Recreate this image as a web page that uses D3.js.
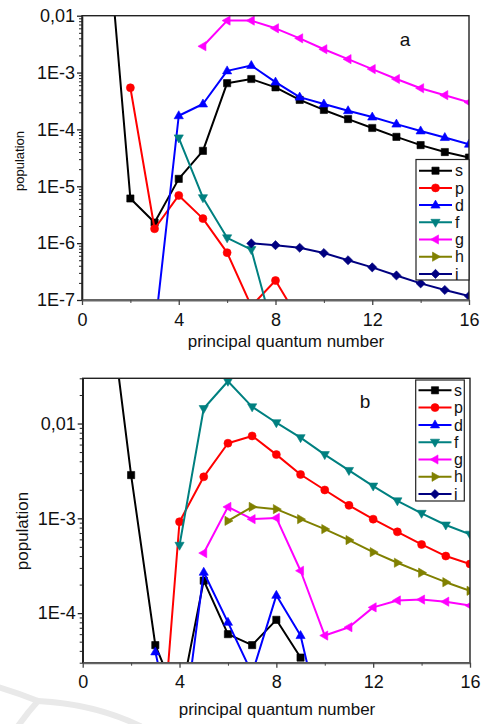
<!DOCTYPE html>
<html>
<head>
<meta charset="utf-8">
<script src="https://cdn.jsdelivr.net/npm/d3@7"></script>
<style>
  body { margin: 0; background: #fff; }
  svg { display: block; }
  text { font-family: "Liberation Sans", Arial, sans-serif; fill: #111; }
</style>
</head>
<body>
<svg id="chart" width="482" height="724"></svg>
<script>
// principal quantum number n = 1..16 ; null = no point
const nValues = d3.range(1, 17);
const seriesNames = ["s", "p", "d", "f", "g", "h", "i"];
const seriesColors = ["#000000", "#ff0000", "#0000ff", "#008080", "#ff00ff", "#808000", "#000080"];

// panel a populations
const sA = [0.6, 6.1e-6, 2.3e-6, 1.35e-5, 4.2e-5, 6.5e-4, 7.7e-4, 5.5e-4, 3.3e-4, 2.2e-4, 1.52e-4, 1.06e-4, 7.4e-5, 5.3e-5, 4.0e-5, 3.2e-5];
const pA = [null, 5.4e-4, 1.79e-6, 6.9e-6, 2.7e-6, 6.8e-7, 7.8e-8, 2.2e-7, 4.3e-8, null, null, null, null, null, null, null];
const dA = [null, null, 2.7e-8, 1.74e-4, 2.8e-4, 1.07e-3, 1.33e-3, 6.8e-4, 3.7e-4, 2.8e-4, 2.13e-4, 1.65e-4, 1.24e-4, 9.4e-5, 7.2e-5, 5.5e-5];
const fA = [null, null, null, 7.1e-5, 6.3e-6, 1.24e-6, 7.7e-7, 2.1e-8, null, null, null, null, null, null, null, null];
const gA = [null, null, null, null, 2.9e-3, 8.2e-3, 8.2e-3, 6.0e-3, 4.0e-3, 2.57e-3, 1.72e-3, 1.15e-3, 7.7e-4, 5.3e-4, 4.0e-4, 3.0e-4];
const hA = [null, null, null, null, null, null, null, null, null, null, null, null, null, null, null, null];
const iA = [null, null, null, null, null, null, 9.9e-7, 9.2e-7, 8.3e-7, 6.7e-7, 5.0e-7, 3.75e-7, 2.7e-7, 1.96e-7, 1.5e-7, 1.17e-7];

// panel b populations
const sB = [0.31, 2.86e-3, 4.6e-5, 1.1e-5, 2.2e-4, 6.0e-5, 4.6e-5, 8.5e-5, 3.4e-5, null, null, null, null, null, null, null];
const pB = [null, null, 5.5e-7, 9.2e-4, 2.74e-3, 6.2e-3, 7.4e-3, 4.7e-3, 2.9e-3, 1.99e-3, 1.37e-3, 9.8e-4, 7.2e-4, 5.3e-4, 4.0e-4, 3.3e-4];
const dB = [null, null, 3.9e-5, 2.9e-6, 2.7e-4, 8.0e-5, 2.3e-5, 1.54e-4, 5.8e-5, 4.8e-6, null, null, null, null, null, null];
const fB = [null, null, null, 5.2e-4, 1.44e-2, 2.79e-2, 1.5e-2, 1.02e-2, 7.1e-3, 4.7e-3, 3.2e-3, 2.19e-3, 1.53e-3, 1.13e-3, 8.5e-4, 6.8e-4];
const gB = [null, null, null, null, 4.3e-4, 1.32e-3, 9.8e-4, 1.01e-3, 2.8e-4, 5.8e-5, 7.1e-5, 1.15e-4, 1.36e-4, 1.39e-4, 1.32e-4, 1.2e-4];
const hB = [null, null, null, null, null, 9.4e-4, 1.32e-3, 1.25e-3, 9.8e-4, 7.7e-4, 5.9e-4, 4.4e-4, 3.4e-4, 2.67e-4, 2.12e-4, 1.72e-4];
const iB = [null, null, null, null, null, null, null, null, null, null, null, null, null, null, null, null];

// axes
const xDomain = [0, 16];
const xTicks = [0, 4, 8, 12, 16];
const xMinorTicks = [2, 6, 10, 14];
const yDomainA = [1e-7, 1e-2];
const yTicksA = [1e-7, 1e-6, 1e-5, 1e-4, 1e-3, 1e-2];
const yTickLabelsA = ["1E-7", "1E-6", "1E-5", "1E-4", "1E-3", "0,01"];
const yDomainB = [3e-5, 3e-2];
const yTicksB = [1e-4, 1e-3, 1e-2];
const yTickLabelsB = ["1E-4", "1E-3", "0,01"];
const xTitle = "principal quantum number";
const yTitle = "population";

const svg = d3.select("#chart");

// faint logo watermark in the lower left corner
const wm = svg.append("g").attr("fill", "none").attr("stroke", "#e9e9e9")
  .attr("stroke-width", 6).attr("stroke-linecap", "round");
wm.append("path").attr("d", "M-2,687 Q18,693 38,701");
wm.append("path").attr("d", "M38,701 Q28,712 18,726");
wm.append("path").attr("d", "M38,701 Q95,704 140,726");

// marker shapes, one per orbital
const markerPaths = {
  s: "M-3.6,-3.6h7.2v7.2h-7.2z",
  p: d3.arc()({ innerRadius: 0, outerRadius: 4, startAngle: 0, endAngle: 2 * Math.PI }),
  d: "M0,-5L4.6,3L-4.6,3Z",
  f: "M0,5L4.6,-3L-4.6,-3Z",
  g: "M-5,0L3,-4.6L3,4.6Z",
  h: "M5,0L-3,-4.6L-3,4.6Z",
  i: "M0,-4.6L4.6,0L0,4.6L-4.6,0Z"
};

function minorLogTicks(domain) {
  const out = [];
  const lo = Math.floor(Math.log10(domain[0]));
  const hi = Math.ceil(Math.log10(domain[1]));
  for (let e = lo; e < hi; e++) {
    for (let m = 2; m <= 9; m++) {
      const v = m * Math.pow(10, e);
      if (v >= domain[0] * 0.999 && v <= domain[1] * 1.001) out.push(v);
    }
  }
  return out;
}

function drawPanel(cfg) {
  const x = d3.scaleLinear().domain(xDomain).range([cfg.left, cfg.right]);
  const y = d3.scaleLog().domain(cfg.yDomain).range([cfg.bottom, cfg.top]);
  const g = svg.append("g");

  const clipId = "clip-" + cfg.id;
  svg.append("clipPath").attr("id", clipId)
    .append("rect")
    .attr("x", cfg.left).attr("y", cfg.top)
    .attr("width", cfg.right - cfg.left).attr("height", cfg.bottom - cfg.top);

  // series
  const plot = g.append("g").attr("clip-path", `url(#${clipId})`);
  const line = d3.line()
    .defined(d => d.v != null)
    .x(d => x(d.n))
    .y(d => y(d.v));

  cfg.series.forEach((vals, k) => {
    const name = seriesNames[k];
    const color = seriesColors[k];
    const pts = nValues.map((n, j) => ({ n, v: vals[j] }));
    plot.append("path")
      .datum(pts)
      .attr("fill", "none")
      .attr("stroke", color)
      .attr("stroke-width", 2)
      .attr("stroke-linejoin", "round")
      .attr("d", line);
    plot.selectAll(null)
      .data(pts.filter(d => d.v != null))
      .join("path")
      .attr("transform", d => `translate(${x(d.n)},${y(d.v)})`)
      .attr("d", markerPaths[name])
      .attr("fill", color)
      .attr("stroke", color)
      .attr("stroke-width", 0.6);
  });

  // frame
  g.append("rect")
    .attr("x", cfg.left).attr("y", cfg.top)
    .attr("width", cfg.right - cfg.left).attr("height", cfg.bottom - cfg.top)
    .attr("fill", "none").attr("stroke", "#222").attr("stroke-width", 1.4);

  // y axis, majors with labels and minors
  const yAxis = g.append("g").attr("transform", `translate(${cfg.left},0)`)
    .call(d3.axisLeft(y).tickValues(cfg.yTicks)
      .tickFormat((d, j) => cfg.yTickLabels[j])
      .tickSize(5).tickPadding(2).tickSizeOuter(0));
  yAxis.select(".domain").attr("stroke", "#222").attr("stroke-width", 1.6);
  yAxis.selectAll(".tick line").attr("stroke", "#222").attr("stroke-width", 1.3);
  yAxis.selectAll("text").attr("font-size", 18).attr("fill", "#111")
    .style("font-family", '"Liberation Sans", Arial, sans-serif');
  const yMinor = g.append("g").attr("transform", `translate(${cfg.left},0)`)
    .call(d3.axisLeft(y).tickValues(minorLogTicks(cfg.yDomain)).tickFormat("").tickSize(3).tickSizeOuter(0));
  yMinor.select(".domain").remove();
  yMinor.selectAll(".tick line").attr("stroke", "#222").attr("stroke-width", 1);

  // x axis
  const xAxis = g.append("g").attr("transform", `translate(0,${cfg.bottom})`)
    .call(d3.axisBottom(x).tickValues(xTicks).tickFormat(d3.format("d"))
      .tickSize(5).tickPadding(cfg.xPad).tickSizeOuter(0));
  xAxis.select(".domain").attr("stroke", "#666").attr("stroke-width", 2);
  xAxis.selectAll(".tick line").attr("stroke", "#444").attr("stroke-width", 1.3);
  xAxis.selectAll("text").attr("font-size", 18).attr("fill", "#111")
    .style("font-family", '"Liberation Sans", Arial, sans-serif');
  const xMinor = g.append("g").attr("transform", `translate(0,${cfg.bottom})`)
    .call(d3.axisBottom(x).tickValues(xMinorTicks).tickFormat("").tickSize(3).tickSizeOuter(0));
  xMinor.select(".domain").remove();
  xMinor.selectAll(".tick line").attr("stroke", "#444").attr("stroke-width", 1);

  // titles
  g.append("text")
    .attr("x", cfg.xTitleX).attr("y", cfg.xTitleY)
    .attr("text-anchor", "middle").attr("font-size", 17)
    .text(xTitle);
  g.append("text")
    .attr("transform", `translate(${cfg.yTitleX},${cfg.yTitleY}) rotate(-90)`)
    .attr("text-anchor", "middle").attr("font-size", cfg.yTitleSize)
    .text(yTitle);
  g.append("text")
    .attr("x", cfg.tagX).attr("y", cfg.tagY)
    .attr("text-anchor", "middle").attr("font-size", 19)
    .text(cfg.tag);

  // legend
  const L = cfg.legend;
  const lg = g.append("g");
  lg.append("rect")
    .attr("x", L.x0).attr("y", L.y0)
    .attr("width", L.x1 - L.x0).attr("height", L.y1 - L.y0)
    .attr("fill", "#fff").attr("stroke", "#222").attr("stroke-width", 1.2);
  seriesNames.forEach((name, k) => {
    const yy = L.firstY + k * L.step;
    lg.append("line")
      .attr("x1", L.lineX0).attr("x2", L.lineX1)
      .attr("y1", yy).attr("y2", yy)
      .attr("stroke", seriesColors[k]).attr("stroke-width", 2);
    lg.append("path")
      .attr("transform", `translate(${(L.lineX0 + L.lineX1) / 2},${yy})`)
      .attr("d", markerPaths[name])
      .attr("fill", seriesColors[k]).attr("stroke", seriesColors[k]).attr("stroke-width", 0.6);
    lg.append("text")
      .attr("x", L.textX).attr("y", yy).attr("dy", "0.35em")
      .attr("font-size", 16)
      .text(name);
  });
}

drawPanel({
  id: "a", tag: "a",
  left: 82, right: 469, top: 15.7, bottom: 300,
  yDomain: yDomainA, yTicks: yTicksA, yTickLabels: yTickLabelsA,
  series: [sA, pA, dA, fA, gA, hA, iA],
  xPad: 8, xTitleX: 286, xTitleY: 347,
  yTitleX: 24, yTitleY: 161, yTitleSize: 13,
  tagX: 405, tagY: 46,
  legend: { x0: 416, x1: 469, y0: 159.5, y1: 280, firstY: 170.7, step: 17.2, lineX0: 419, lineX1: 452, textX: 455 }
});

drawPanel({
  id: "b", tag: "b",
  left: 82.7, right: 470, top: 378.3, bottom: 662.7,
  yDomain: yDomainB, yTicks: yTicksB, yTickLabels: yTickLabelsB,
  series: [sB, pB, dB, fB, gB, hB, iB],
  xPad: 7.5, xTitleX: 277, xTitleY: 715,
  yTitleX: 28, yTitleY: 531, yTitleSize: 17,
  tagX: 365, tagY: 408,
  legend: { x0: 415.7, x1: 464.3, y0: 380, y1: 501, firstY: 390.3, step: 17.3, lineX0: 418.5, lineX1: 451.5, textX: 454 }
});
</script>
</body>
</html>
